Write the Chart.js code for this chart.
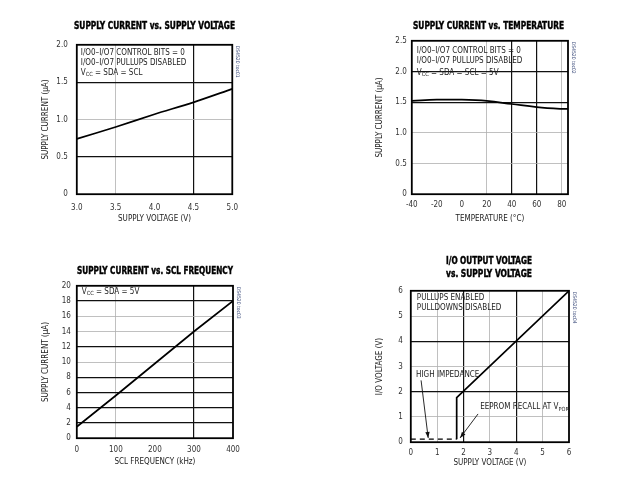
<!DOCTYPE html>
<html><head><meta charset="utf-8">
<script src="https://cdn.jsdelivr.net/npm/chart.js@4.4.1/dist/chart.umd.min.js"></script>
<style>
body{margin:0;background:#fff;width:620px;height:492px;position:relative;overflow:hidden;}
canvas{position:absolute;}
.t{position:absolute;font-family:"Liberation Sans Narrow","DejaVu Sans Condensed",sans-serif;font-weight:bold;font-size:11px;white-space:nowrap;transform-origin:left center;color:#000;line-height:1;-webkit-text-stroke:0.45px #000;}
</style></head><body>
<canvas id="c1"></canvas><canvas id="c2"></canvas><canvas id="c3"></canvas><canvas id="c4"></canvas>
<script>
// ---------- data ----------
const p1Voltage = [3.0, 3.5, 4.0, 4.5, 5.0];
const p1Current = [0.74, 0.90, 1.07, 1.23, 1.41];
const p2Temp = [-40, -20, 0, 20, 40, 60, 80, 85];
const p2Current = [1.52, 1.54, 1.54, 1.52, 1.47, 1.42, 1.39, 1.39];
const p3Freq = [0, 100, 200, 300, 400];
const p3Current = [1.5, 5.6, 9.8, 14.0, 18.0];
const p4SupplyOn = [1.74, 1.74, 6.0];
const p4IoOn = [0.12, 1.77, 6.0];
const p4SupplyHiZ = [0, 1.74];
const p4IoHiZ = [0.12, 0.12];

const p1XTicks = [3.0, 3.5, 4.0, 4.5, 5.0];
const p1XLabels = ['3.0', '3.5', '4.0', '4.5', '5.0'];
const p1YTicks = [0, 0.5, 1.0, 1.5, 2.0];
const p1YLabels = ['0', '0.5', '1.0', '1.5', '2.0'];
const p2XTicks = [-40, -20, 0, 20, 40, 60, 80];
const p2XLabels = ['-40', '-20', '0', '20', '40', '60', '80'];
const p2YTicks = [0, 0.5, 1.0, 1.5, 2.0, 2.5];
const p2YLabels = ['0', '0.5', '1.0', '1.5', '2.0', '2.5'];
const p3XTicks = [0, 100, 200, 300, 400];
const p3XLabels = ['0', '100', '200', '300', '400'];
const p3YTicks = [0, 2, 4, 6, 8, 10, 12, 14, 16, 18, 20];
const p3YLabels = ['0', '2', '4', '6', '8', '10', '12', '14', '16', '18', '20'];
const p4XTicks = [0, 1, 2, 3, 4, 5, 6];
const p4XLabels = ['0', '1', '2', '3', '4', '5', '6'];
const p4YTicks = [0, 1, 2, 3, 4, 5, 6];
const p4YLabels = ['0', '1', '2', '3', '4', '5', '6'];

// ---------- styles ----------
const FONT = '"Liberation Sans Narrow","DejaVu Sans Condensed",sans-serif';
const grid1 = {xDark: [4.5], xLight: [3.5], yDark: [0.5, 1.5], yLight: [1.0]};
const grid2 = {xDark: [40, 60], xLight: [20, 80], yDark: [1.5, 2.0], yLight: [0.5, 1.0]};
const grid3 = {xDark: [300], xLight: [100], yDark: [2, 4, 6, 8, 12, 18], yLight: [10, 14, 16]};
const grid4 = {xDark: [2, 4], xLight: [1, 3, 5], yDark: [2, 4], yLight: [1, 3, 5]};

function pts(xs, ys) { return xs.map((x, i) => ({x: x, y: ys[i]})); }

function drawParts(ctx, parts, x, y, size) {
  let cx = x;
  ctx.textBaseline = 'middle';
  ctx.textAlign = 'left';
  for (const [s, sub] of parts) {
    const fs = sub ? size * 0.7 : size;
    ctx.font = fs + 'px ' + FONT;
    ctx.fillText(s, cx, sub ? y + size * 0.25 : y);
    cx += ctx.measureText(s).width;
  }
}

function arrow(ctx, x1, y1, x2, y2) {
  ctx.save();
  ctx.strokeStyle = '#111'; ctx.fillStyle = '#111'; ctx.lineWidth = 0.9;
  ctx.beginPath(); ctx.moveTo(x1, y1); ctx.lineTo(x2, y2); ctx.stroke();
  const a = Math.atan2(y2 - y1, x2 - x1), L = 6, W = 2.2;
  ctx.beginPath();
  ctx.moveTo(x2, y2);
  ctx.lineTo(x2 - L * Math.cos(a) + W * Math.sin(a), y2 - L * Math.sin(a) - W * Math.cos(a));
  ctx.lineTo(x2 - L * Math.cos(a) - W * Math.sin(a), y2 - L * Math.sin(a) + W * Math.cos(a));
  ctx.closePath(); ctx.fill();
  ctx.restore();
}

function makeChart(id, box, cfg) {
  const cv = document.getElementById(id);
  const left = box.titleX - 4.8;
  const top = box.top - 8;
  const rightPad = 14;
  const w = box.right - left + rightPad;
  const xH = box.xTitleOff + 4.8;
  const h = box.bottom + xH - top;
  cv.width = Math.round(w); cv.height = Math.round(h);
  cv.style.left = left + 'px'; cv.style.top = top + 'px';
  cv.style.width = Math.round(w) + 'px'; cv.style.height = Math.round(h) + 'px';
  const yW = box.left - left;
  const g = cfg.grid;
  const gc = (dark, light) => (c) => {
    const v = c.tick && c.tick.value;
    if (dark.includes(v)) return '#111';
    if (light.includes(v)) return '#b0b0b0';
    return 'rgba(0,0,0,0)';
  };
  const gw = (dark) => (c) => (c.tick && dark.includes(c.tick.value)) ? 1.2 : 0.8;
  const lab = (ticks, labels) => (v) => { const i = ticks.indexOf(v); return i >= 0 ? labels[i] : ''; };
  const overlay = {
    id: 'overlay' + id,
    afterDatasetsDraw(chart) {
      const ctx = chart.ctx, a = chart.chartArea;
      ctx.save();
      ctx.strokeStyle = '#000'; ctx.lineWidth = 1.8;
      ctx.strokeRect(a.left, a.top, a.right - a.left, a.bottom - a.top);
      ctx.fillStyle = '#222';
      for (const ln of cfg.notes) drawParts(ctx, ln.parts, a.left + ln.dx, a.top + ln.dy, 8);
      // id tag
      ctx.save();
      ctx.translate(a.right + 3, a.top + 1);
      ctx.rotate(Math.PI / 2);
      ctx.font = '5px ' + FONT; ctx.fillStyle = '#3a4a7a';
      ctx.textBaseline = 'bottom'; ctx.textAlign = 'left';
      ctx.fillText(cfg.tag, 0, 0);
      ctx.restore();
      if (cfg.extra) cfg.extra(chart, ctx);
      ctx.restore();
    }
  };
  return new Chart(cv, {
    type: 'line',
    data: {datasets: cfg.datasets},
    options: {
      responsive: false, animation: false,
      layout: {padding: {top: 8, right: rightPad, left: 0, bottom: 0}},
      plugins: {legend: {display: false}, tooltip: {enabled: false}},
      elements: {point: {radius: 0}},
      scales: {
        x: {
          type: 'linear', min: cfg.xMin, max: cfg.xMax,
          afterBuildTicks: (s) => { s.ticks = cfg.xTicks.map(v => ({value: v})); },
          afterFit: (s) => { s.height = xH; },
          grid: {drawTicks: false, color: gc(g.xDark, g.xLight), lineWidth: gw(g.xDark)},
          border: {display: false},
          ticks: {padding: box.xPad, maxRotation: 0, autoSkip: false, color: '#333', font: {family: FONT, size: 8}, callback: lab(cfg.xTicks, cfg.xLabels)},
          title: {display: true, text: cfg.xTitle, color: '#222', padding: 0, font: {family: FONT, size: 8, lineHeight: 1.2}}
        },
        y: {
          type: 'linear', min: cfg.yMin, max: cfg.yMax,
          afterBuildTicks: (s) => { s.ticks = cfg.yTicks.map(v => ({value: v})); },
          afterFit: (s) => { s.width = yW; },
          grid: {drawTicks: false, color: gc(g.yDark, g.yLight), lineWidth: gw(g.yDark)},
          border: {display: false},
          ticks: {padding: box.yPad, autoSkip: false, color: '#333', font: {family: FONT, size: 8}, callback: lab(cfg.yTicks, cfg.yLabels)},
          title: {display: true, text: cfg.yTitle, color: '#222', padding: 0, font: {family: FONT, size: 8, lineHeight: 1.2}}
        }
      }
    },
    plugins: [overlay]
  });
}

const lineStyle = {borderColor: '#000', borderWidth: 1.7, fill: false, pointRadius: 0};

makeChart('c1', {titleX: 46, left: 77, right: 233, top: 39, bottom: 194, xTitleOff: 25, xPad: 9, yPad: 9}, {
  datasets: [Object.assign({data: pts(p1Voltage, p1Current), tension: 0.3}, lineStyle)],
  xMin: 3, xMax: 5, yMin: 0, yMax: 2,
  xTicks: p1XTicks, xLabels: p1XLabels, yTicks: p1YTicks, yLabels: p1YLabels,
  xTitle: 'SUPPLY VOLTAGE (V)', yTitle: 'SUPPLY CURRENT (µA)', grid: grid1, tag: 'DS4520 toc01',
  notes: [
    {dx: 4, dy: 8, parts: [['I/O0–I/O7 CONTROL BITS = 0', 0]]},
    {dx: 4, dy: 18, parts: [['I/O0–I/O7 PULLUPS DISABLED', 0]]},
    {dx: 4, dy: 28, parts: [['V', 0], ['CC', 1], [' = SDA = SCL', 0]]}
  ]
});

makeChart('c2', {titleX: 380, left: 412, right: 568, top: 39, bottom: 194, xTitleOff: 25, xPad: 6, yPad: 5}, {
  datasets: [Object.assign({data: pts(p2Temp, p2Current), tension: 0.4}, lineStyle)],
  xMin: -40, xMax: 85, yMin: 0, yMax: 2.5,
  xTicks: p2XTicks, xLabels: p2XLabels, yTicks: p2YTicks, yLabels: p2YLabels,
  xTitle: 'TEMPERATURE (°C)', yTitle: 'SUPPLY CURRENT (µA)', grid: grid2, tag: 'DS4520 toc02',
  notes: [
    {dx: 5, dy: 10, parts: [['I/O0–I/O7 CONTROL BITS = 0', 0]]},
    {dx: 5, dy: 20.5, parts: [['I/O0–I/O7 PULLUPS DISABLED', 0]]},
    {dx: 5, dy: 32, parts: [['V', 0], ['CC', 1], [' = SDA = SCL = 5V', 0]]}
  ]
});

makeChart('c3', {titleX: 46, left: 77, right: 233, top: 283, bottom: 438, xTitleOff: 24, xPad: 7, yPad: 6}, {
  datasets: [Object.assign({data: pts(p3Freq, p3Current), tension: 0}, lineStyle)],
  xMin: 0, xMax: 400, yMin: 0, yMax: 20,
  xTicks: p3XTicks, xLabels: p3XLabels, yTicks: p3YTicks, yLabels: p3YLabels,
  xTitle: 'SCL FREQUENCY (kHz)', yTitle: 'SUPPLY CURRENT (µA)', grid: grid3, tag: 'DS4520 toc03',
  notes: [
    {dx: 5, dy: 6, parts: [['V', 0], ['CC', 1], [' = SDA = 5V', 0]]}
  ]
});

makeChart('c4', {titleX: 380, left: 411, right: 569, top: 286, bottom: 442, xTitleOff: 21, xPad: 6, yPad: 8}, {
  datasets: [
    Object.assign({data: pts(p4SupplyOn, p4IoOn), tension: 0}, lineStyle),
    Object.assign({data: pts(p4SupplyHiZ, p4IoHiZ), tension: 0, borderDash: [5, 4]}, lineStyle, {borderWidth: 1.2})
  ],
  xMin: 0, xMax: 6, yMin: 0, yMax: 6,
  xTicks: p4XTicks, xLabels: p4XLabels, yTicks: p4YTicks, yLabels: p4YLabels,
  xTitle: 'SUPPLY VOLTAGE (V)', yTitle: 'I/O VOLTAGE (V)', grid: grid4, tag: 'DS4520 toc04',
  notes: [
    {dx: 6, dy: 7, parts: [['PULLUPS ENABLED', 0]]},
    {dx: 6, dy: 17.5, parts: [['PULLDOWNS DISABLED', 0]]}
  ],
  extra: (chart, ctx) => {
    const x = chart.scales.x, y = chart.scales.y;
    ctx.fillStyle = '#222';
    drawParts(ctx, [['HIGH IMPEDANCE', 0]], x.getPixelForValue(0.2), y.getPixelForValue(2.68), 8);
    arrow(ctx, x.getPixelForValue(0.39), y.getPixelForValue(2.45), x.getPixelForValue(0.66), y.getPixelForValue(0.17));
    ctx.fillStyle = '#222';
    drawParts(ctx, [['EEPROM RECALL AT V', 0], ['POR', 1]], x.getPixelForValue(2.63), y.getPixelForValue(1.38), 8);
    arrow(ctx, x.getPixelForValue(2.55), y.getPixelForValue(1.12), x.getPixelForValue(1.87), y.getPixelForValue(0.17));
  }
});

// ---------- titles ----------
function title(text, l, r, cy) {
  const d = document.createElement('div');
  d.className = 't'; d.textContent = text;
  document.body.appendChild(d);
  const w = d.getBoundingClientRect().width, hh = d.getBoundingClientRect().height;
  d.style.left = l + 'px'; d.style.top = (cy - hh / 2) + 'px';
  d.style.transform = 'scaleX(' + ((r - l) / w) + ')';
}
title('SUPPLY CURRENT vs. SUPPLY VOLTAGE', 74, 235, 25.5);
title('SUPPLY CURRENT vs. TEMPERATURE', 413, 564, 25.5);
title('SUPPLY CURRENT vs. SCL FREQUENCY', 77, 233, 270);
title('I/O OUTPUT VOLTAGE', 446, 532, 260);
title('vs. SUPPLY VOLTAGE', 446, 532, 273);
</script>
</body></html>
